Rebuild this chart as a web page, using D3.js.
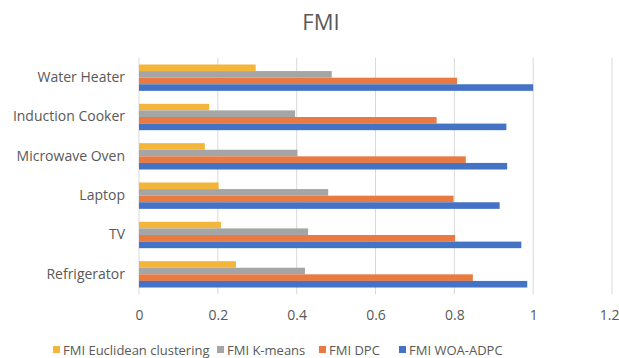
<!DOCTYPE html>
<html>
<head>
<meta charset="utf-8">
<script src="https://cdn.jsdelivr.net/npm/d3@7/dist/d3.min.js"></script>
<style>
  html, body { margin: 0; padding: 0; background: #fff; }
  svg { display: block; font-family: "Open Sans", "Liberation Sans", sans-serif; }
</style>
</head>
<body>
<svg id="chart" width="619" height="358"></svg>
<script>
// Appliance categories, listed bottom to top
const categories = ["Refrigerator", "TV", "Laptop", "Microwave Oven", "Induction Cooker", "Water Heater"];
const seriesNames = ["FMI Euclidean clustering", "FMI K-means", "FMI DPC", "FMI WOA-ADPC"];
const euclidean = [0.246, 0.208, 0.202, 0.167, 0.178, 0.296];
const kmeans    = [0.421, 0.429, 0.480, 0.402, 0.396, 0.489];
const dpc       = [0.847, 0.802, 0.798, 0.829, 0.755, 0.807];
const woaAdpc   = [0.985, 0.970, 0.915, 0.934, 0.932, 1.000];
const xTicks = [0, 0.2, 0.4, 0.6, 0.8, 1, 1.2];
const colors = ["#F4B63A", "#A5A5A5", "#E97B42", "#4472C4"];

const seriesValues = [euclidean, kmeans, dpc, woaAdpc];
const svg = d3.select("#chart");

const plot = { left: 139, right: 612, top: 58, bottom: 294 };

const x = d3.scaleLinear().domain([0, 1.2]).range([plot.left, plot.right]);
// top-to-bottom order: last category at top
const y = d3.scaleBand()
  .domain(categories.slice().reverse())
  .range([plot.top, plot.bottom])
  .paddingInner(0.33)
  .paddingOuter(0.165);
const inner = d3.scaleBand().domain(d3.range(seriesNames.length)).range([0, y.bandwidth()]);

// Title
svg.append("text")
  .attr("x", 321).attr("y", 30)
  .attr("text-anchor", "middle")
  .attr("font-size", 22)
  .attr("fill", "#595959")
  .text("FMI");

// Vertical gridlines
svg.append("g")
  .selectAll("line")
  .data(xTicks)
  .join("line")
  .attr("x1", d => x(d)).attr("x2", d => x(d))
  .attr("y1", plot.top).attr("y2", plot.bottom)
  .attr("stroke", "#D9D9D9")
  .attr("stroke-width", 1);

// Bars
const groups = svg.append("g")
  .selectAll("g")
  .data(categories)
  .join("g")
  .attr("transform", d => `translate(0,${y(d)})`);

groups.selectAll("rect")
  .data((d, i) => seriesValues.map((vals, s) => ({ s, v: vals[i] })))
  .join("rect")
  .attr("x", x(0))
  .attr("y", d => inner(d.s))
  .attr("width", d => x(d.v) - x(0))
  .attr("height", inner.bandwidth())
  .attr("fill", d => colors[d.s]);

// Category axis labels
const yAxis = d3.axisLeft(y).tickSize(0).tickPadding(14);
const yg = svg.append("g").attr("transform", `translate(${plot.left},0)`).call(yAxis);
yg.select(".domain").remove();
yg.selectAll("text").attr("font-size", 14).attr("fill", "#595959").attr("font-family", "Open Sans, Liberation Sans, sans-serif");

// Value axis labels
const xAxis = d3.axisBottom(x).tickValues(xTicks).tickSize(0).tickPadding(16).tickFormat(d3.format("~g"));
const xg = svg.append("g").attr("transform", `translate(0,${plot.bottom})`).call(xAxis);
xg.select(".domain").remove();
xg.selectAll("text").attr("font-size", 14).attr("fill", "#595959").attr("font-family", "Open Sans, Liberation Sans, sans-serif");
// keep the last tick label inside the canvas
xg.selectAll(".tick").filter(d => d === xTicks[xTicks.length - 1])
  .select("text").attr("text-anchor", "end").attr("x", 619 - x(xTicks[xTicks.length - 1]));

// Legend
const legendX = [53, 217, 319, 399];
const legend = svg.append("g")
  .selectAll("g")
  .data(seriesNames)
  .join("g")
  .attr("transform", (d, i) => `translate(${legendX[i]},350)`);
legend.append("rect")
  .attr("x", 0).attr("y", -4)
  .attr("width", 7).attr("height", 7)
  .attr("fill", (d, i) => colors[i]);
legend.append("text")
  .attr("x", 10).attr("y", 0)
  .attr("dy", "0.35em")
  .attr("font-size", 13)
  .attr("fill", "#595959")
  .text(d => d);
</script>
</body>
</html>
